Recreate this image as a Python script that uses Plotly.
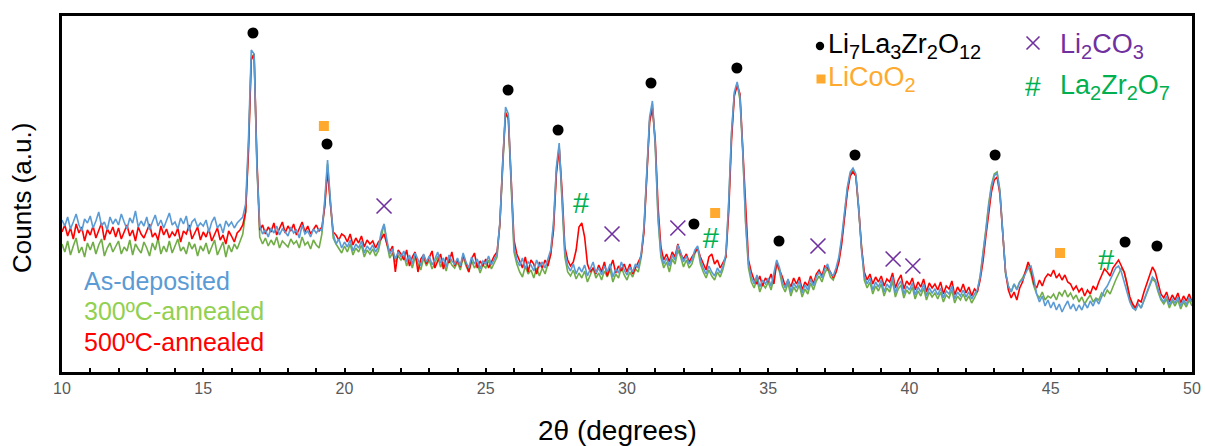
import numpy as np
import plotly.graph_objects as go

# ---------------- data ----------------
two_theta = [round(10 + 0.1 * i, 1) for i in range(401)]

as_deposited = [
    152,146,155,143,150,158,147,141,153,149,
    156,144,151,160,146,150,142,155,148,153,
    147,158,150,143,154,149,161,145,151,146,
    155,142,150,157,146,152,144,151,159,147,
    150,143,154,148,156,141,150,153,145,149,
    146,152,140,150,155,144,148,139,151,146,
    150,144,149,152,155,168,232,322,318,205,
    146,138,142,135,144,139,146,137,143,140,
    136,145,139,142,134,147,138,141,135,143,
    139,143,141,172,212,172,138,128,133,124,
    130,125,132,121,128,124,131,119,126,122,
    127,120,125,140,148,132,118,123,113,120,
    115,121,110,117,108,119,112,106,118,110,
    116,107,113,120,109,114,105,117,111,108,
    114,106,119,110,104,115,108,113,103,111,
    108,116,107,113,118,150,215,265,258,185,
    125,112,106,114,103,110,107,101,112,105,
    110,104,113,122,150,205,229,178,120,106,
    101,108,98,105,100,107,96,103,110,99,
    104,97,106,100,108,95,103,99,110,102,
    97,105,100,108,104,118,145,200,255,271,
    228,155,118,108,114,106,117,112,127,120,
    110,116,108,112,122,126,112,104,98,106,
    100,96,104,99,106,118,170,240,280,290,
    275,220,150,108,95,88,97,85,92,88,
    94,86,98,112,104,90,84,93,80,89,
    84,91,79,87,82,93,86,95,100,94,
    103,108,99,96,104,115,135,160,185,200,
    204,198,165,122,96,88,94,82,90,85,
    92,80,88,84,95,79,87,91,78,86,
    82,89,77,85,80,88,76,84,79,83,
    77,84,74,81,78,86,73,80,76,82,
    75,80,73,78,82,95,115,140,165,185,
    196,199,180,140,100,86,80,88,82,90,
    92,98,104,106,94,78,70,76,66,72,
    64,70,62,68,60,66,71,63,68,61,
    67,62,69,64,71,66,73,68,76,82,
    86,92,98,104,106,100,90,80,70,64,
    62,68,64,72,80,88,95,92,82,74,
    70,76,67,73,69,75,66,72,68,74,
    70,
]

annealed_500 = [
    140,147,136,144,133,148,139,145,131,142,
    137,146,134,141,149,132,143,138,145,135,
    144,133,140,147,136,142,131,145,138,134,
    141,148,135,139,132,146,137,143,134,140,
    136,144,130,141,138,147,133,139,145,132,
    140,135,143,131,138,144,132,137,128,141,
    136,130,139,142,147,160,220,312,318,212,
    142,147,138,145,140,149,137,144,150,139,
    146,141,148,137,144,150,140,146,138,143,
    147,141,145,165,202,168,140,137,132,138,
    136,130,138,127,134,129,136,125,132,128,
    131,124,130,133,138,128,120,126,100,122,
    118,112,122,106,115,120,100,113,117,108,
    114,121,104,112,118,103,115,109,120,106,
    112,105,117,109,100,113,119,104,111,106,
    113,104,110,116,120,148,210,259,254,190,
    132,118,110,104,115,100,112,108,98,110,
    104,112,106,118,142,198,224,182,125,112,
    106,110,122,145,149,135,108,100,104,98,
    107,100,110,96,104,112,99,106,101,108,
    100,108,98,105,110,116,140,195,250,264,
    232,165,125,112,118,110,120,115,128,118,
    113,118,110,115,120,124,115,108,102,115,
    118,108,112,104,110,115,160,232,276,287,
    278,225,160,112,100,92,88,96,86,94,
    90,98,88,110,102,95,86,92,85,94,
    88,95,82,90,86,96,88,98,102,96,
    106,104,100,94,100,110,128,155,180,196,
    200,196,165,125,100,92,98,88,95,90,
    96,86,93,90,99,84,92,97,83,91,
    87,94,82,90,85,93,80,89,84,88,
    82,90,78,86,83,91,77,85,80,88,
    79,85,76,83,80,92,110,135,160,180,
    192,195,178,142,100,82,74,80,72,84,
    90,100,110,102,88,84,92,86,94,98,
    96,102,94,98,92,97,90,88,82,86,
    80,84,76,82,78,86,82,90,96,103,
    100,96,104,108,112,106,100,88,75,68,
    64,72,70,80,88,98,105,100,88,78,
    74,80,70,77,72,79,69,76,71,78,
    70,
]

annealed_300 = [
    128,120,131,117,126,134,119,125,115,129,
    122,130,118,127,133,116,124,129,120,126,
    131,118,125,121,132,117,128,123,119,130,
    124,116,129,122,134,118,126,120,131,119,
    127,133,121,125,118,130,123,128,116,126,
    121,129,118,125,132,117,124,130,115,127,
    120,128,123,130,138,160,225,314,318,208,
    135,128,134,126,132,127,135,124,131,128,
    125,133,128,131,124,135,127,130,123,132,
    127,124,138,168,208,170,134,128,124,119,
    126,120,128,117,124,120,127,115,122,118,
    123,116,121,135,148,128,114,119,110,116,
    112,117,106,114,104,115,108,102,114,106,
    112,103,109,116,105,110,101,113,107,104,
    110,102,115,106,100,111,104,109,99,107,
    104,112,103,109,115,148,212,260,252,182,
    120,108,100,95,106,98,102,94,104,96,
    104,98,107,118,148,202,226,175,115,100,
    96,102,93,99,94,101,90,97,104,94,
    99,92,101,95,103,90,98,94,105,97,
    92,100,95,103,100,114,142,198,252,268,
    226,152,115,104,110,100,113,108,122,115,
    105,112,104,108,118,124,108,100,94,102,
    96,92,100,95,103,115,168,238,278,288,
    272,218,148,104,90,84,93,80,88,84,
    90,82,94,108,100,86,80,89,76,85,
    80,87,75,83,78,89,82,91,96,90,
    99,104,95,92,100,112,132,158,183,198,
    202,196,162,120,92,84,90,78,86,81,
    88,76,84,80,91,75,83,87,74,82,
    78,85,73,81,76,84,72,80,75,79,
    73,80,70,77,74,82,69,76,72,78,
    71,76,69,74,80,96,118,142,168,187,
    198,200,182,142,98,86,80,88,83,90,
    94,100,106,98,86,78,74,80,72,76,
    74,78,72,80,76,82,75,79,73,77,
    70,75,68,73,77,70,74,72,79,76,
    82,78,86,92,98,104,100,88,72,66,
    62,68,64,72,78,86,93,90,80,72,
    68,73,64,71,66,72,63,70,65,72,
    66,
]

# phase identification markers (2theta, height)
llzo_x = [16.76, 19.38, 25.79, 27.56, 30.85, 32.37, 33.89, 35.38, 38.07, 43.03, 47.63, 48.76]
llzo_y = [339, 228, 282, 242, 289, 148, 304, 131, 217, 217, 130, 126]
licoo2_x = [19.27, 33.12, 45.33]
licoo2_y = [246, 159, 119]
li2co3_x = [21.40, 29.47, 31.80, 36.76, 39.42, 40.12]
li2co3_y = [166, 138, 144, 126, 113, 106]
lzo_x = [28.37, 32.97, 46.96]
lzo_y = [166, 131, 109]

x_ticks = [10, 15, 20, 25, 30, 35, 40, 45, 50]

# ---------------- styling ----------------
FONT = "Liberation Sans, Arial, sans-serif"
BLUE, GREEN, RED = "#5B9BD5", "#70AD47", "#FF0000"
ORANGE, PURPLE, LGREEN = "#FFAA2E", "#7030A0", "#00B050"

W, H = 1205, 446
ML, MR, MT, MB = 62, 13, 16, 74
PW, PH = W - ML - MR, H - MT - MB


def px(xp):
    return (xp - ML) / PW


def py(yp):
    return (H - MB - yp) / PH


def chem(formula, sub_size=20):
    out = ""
    for ch in formula:
        if ch.isdigit():
            out += (f'<span style="font-size:{sub_size}px;baseline-shift:-6px">'
                    f'{ch}</span>')
        else:
            out += ch
    return out


fig = go.Figure()
for name, ys, col in [("300ºC-annealed", annealed_300, GREEN),
                      ("500ºC-annealed", annealed_500, RED),
                      ("As-deposited", as_deposited, BLUE)]:
    fig.add_trace(go.Scatter(x=two_theta, y=ys, mode="lines", name=name,
                             line=dict(color=col, width=1.6), showlegend=False))

fig.add_trace(go.Scatter(x=llzo_x, y=llzo_y, mode="markers", showlegend=False,
                         marker=dict(symbol="circle", size=11, color="black")))
fig.add_trace(go.Scatter(x=licoo2_x, y=licoo2_y, mode="markers", showlegend=False,
                         marker=dict(symbol="square", size=10, color=ORANGE)))
fig.add_trace(go.Scatter(x=li2co3_x, y=li2co3_y, mode="markers", showlegend=False,
                         marker=dict(symbol="x-thin", size=15, color=PURPLE,
                                     line=dict(color=PURPLE, width=1.6))))
fig.add_trace(go.Scatter(x=lzo_x, y=lzo_y, mode="text", text=["#"] * len(lzo_x),
                         showlegend=False,
                         textfont=dict(family=FONT, size=29, color=LGREEN)))

ann = []
# sample labels
for txt, yy, col in [("As-deposited", 281, BLUE), ("300ºC-annealed", 311, "#92D050"),
                     ("500ºC-annealed", 342, RED)]:
    ann.append(dict(text=txt, x=px(82), y=py(yy), xref="paper", yref="paper",
                    xanchor="left", yanchor="middle", showarrow=False,
                    font=dict(family=FONT, size=25, color=col)))
# phase key
for txt, xx, yy, col in [(chem("Li7La3Zr2O12"), 826, 46, "black"),
                         (chem("LiCoO2"), 826, 79, ORANGE),
                         (chem("Li2CO3"), 1058, 46, PURPLE),
                         (chem("La2Zr2O7"), 1058, 87, LGREEN)]:
    ann.append(dict(text=txt, x=px(xx), y=py(yy), xref="paper", yref="paper",
                    xanchor="left", yanchor="middle", showarrow=False,
                    font=dict(family=FONT, size=27, color=col)))
ann.append(dict(text="#", x=px(1033), y=py(86), xref="paper", yref="paper",
                xanchor="center", yanchor="middle", showarrow=False,
                font=dict(family=FONT, size=28, color=LGREEN)))
# axis titles
ann.append(dict(text="2θ (degrees)", x=px(617), y=py(430), xref="paper", yref="paper",
                xanchor="center", yanchor="middle", showarrow=False,
                font=dict(family=FONT, size=28, color="black")))
ann.append(dict(text="Counts (a.u.)", x=px(22), y=py(198), xref="paper", yref="paper",
                xanchor="center", yanchor="middle", showarrow=False, textangle=-90,
                font=dict(family=FONT, size=26, color="black")))

shapes = []
# key dot
r = 4.2
shapes.append(dict(type="circle", xref="paper", yref="paper",
                   x0=px(820 - r), x1=px(820 + r), y0=py(46 + r), y1=py(46 - r),
                   fillcolor="black", line=dict(width=0)))
# key square
s = 4.5
shapes.append(dict(type="rect", xref="paper", yref="paper",
                   x0=px(821 - s), x1=px(821 + s), y0=py(79 + s), y1=py(79 - s),
                   fillcolor=ORANGE, line=dict(width=0)))
# key cross
c = 6.5
cx, cy = 1033, 43
shapes.append(dict(type="path", xref="paper", yref="paper",
                   path=(f"M {px(cx-c)},{py(cy-c)} L {px(cx+c)},{py(cy+c)} "
                         f"M {px(cx-c)},{py(cy+c)} L {px(cx+c)},{py(cy-c)}"),
                   line=dict(color=PURPLE, width=1.6)))

fig.update_layout(
    width=W, height=H, autosize=False,
    margin=dict(l=ML, r=MR, t=MT, b=MB, pad=0, autoexpand=False),
    paper_bgcolor="white", plot_bgcolor="white",
    font=dict(family=FONT),
    annotations=ann, shapes=shapes,
    xaxis=dict(range=[10, 50], tickvals=x_ticks, ticktext=[str(v) for v in x_ticks],
               ticks="inside", ticklen=4, tickwidth=2, tickcolor="black",
               minor=dict(dtick=1, tick0=10, ticks="inside", ticklen=4, tickwidth=2,
                          tickcolor="black", showgrid=False),
               showgrid=False, zeroline=False, showline=True, linecolor="black",
               linewidth=3, mirror=True, automargin=False, ticklabeloverflow="allow",
               tickfont=dict(family=FONT, size=16, color="#595959")),
    yaxis=dict(range=[0, 356], showticklabels=False, ticks="", showgrid=False,
               zeroline=False, showline=True, linecolor="black", linewidth=3,
               mirror=True, automargin=False),
)

fig.write_html("out.html", config={"displayModeBar": False},
               post_script="document.body.style.margin='0';")
